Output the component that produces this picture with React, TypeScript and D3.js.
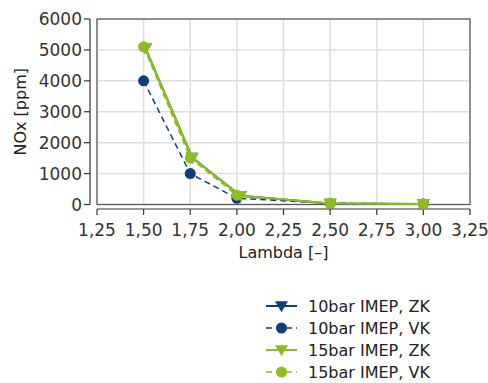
import React from "react";
import * as d3 from "d3";

const xTicks = [1.25, 1.5, 1.75, 2.0, 2.25, 2.5, 2.75, 3.0, 3.25];
const yTicks = [0, 1000, 2000, 3000, 4000, 5000, 6000];

const lambda10ZK = [1.51, 1.76, 2.02, 2.5, 3.0];
const nox10ZK = [5050, 1520, 280, 30, 20];
const lambda10VK = [1.5, 1.75, 2.0, 2.5, 3.0];
const nox10VK = [4000, 1000, 200, 40, 20];
const lambda15ZK = [1.51, 1.76, 2.02, 2.5, 3.0];
const nox15ZK = [5050, 1520, 280, 30, 20];
const lambda15VK = [1.5, 1.75, 2.0, 2.5, 3.0];
const nox15VK = [5100, 1500, 300, 40, 20];

const BLUE = "#0f3f7a";
const GREEN = "#8dbd1e";

const seriesList = [
  { name: "10bar IMEP, ZK", xs: lambda10ZK, ys: nox10ZK, color: BLUE, dashed: false, marker: "tri" },
  { name: "10bar IMEP, VK", xs: lambda10VK, ys: nox10VK, color: BLUE, dashed: true, marker: "circle" },
  { name: "15bar IMEP, ZK", xs: lambda15ZK, ys: nox15ZK, color: GREEN, dashed: false, marker: "tri" },
  { name: "15bar IMEP, VK", xs: lambda15VK, ys: nox15VK, color: GREEN, dashed: true, marker: "circle" },
];

const fmtX = (v: number) => v.toFixed(2).replace(".", ",");

function Marker({ type, x, y, color }: { type: string; x: number; y: number; color: string }) {
  if (type === "circle") return <circle cx={x} cy={y} r={5.5} fill={color} />;
  const s = 6.5;
  return (
    <path
      d={`M${x - s},${y - s * 0.75} L${x + s},${y - s * 0.75} L${x},${y + s * 0.95} Z`}
      fill={color}
    />
  );
}

export default function App() {
  const W = 488, H = 383;
  const left = 97, right = 470, top = 19, bottom = 204.5;
  const x = d3.scaleLinear().domain([1.25, 3.25]).range([left, right]);
  const y = d3.scaleLinear().domain([0, 6000]).range([bottom, top]);
  const font = "'DejaVu Sans', sans-serif";
  const textColor = "#333";
  const axisX = 90;
  const axisY = 209;

  return (
    <svg width={W} height={H} style={{ position: "absolute", left: 0, top: 0 }}>
      <rect width={W} height={H} fill="#fff" />
      {xTicks.map((t) => (
        <line key={"gx" + t} x1={x(t)} x2={x(t)} y1={top} y2={bottom} stroke="#dedede" strokeWidth={1.5} />
      ))}
      {yTicks.map((t) => (
        <line key={"gy" + t} x1={left} x2={right} y1={y(t)} y2={y(t)} stroke="#dedede" strokeWidth={1.5} />
      ))}
      <rect x={left} y={top} width={right - left} height={bottom - top} fill="none" stroke="#555" strokeWidth={1.2} />
      <line x1={axisX} x2={axisX} y1={y(6000)} y2={y(0)} stroke="#333" strokeWidth={1.2} />
      {yTicks.map((t) => (
        <g key={"yt" + t}>
          <line x1={axisX - 6} x2={axisX} y1={y(t)} y2={y(t)} stroke="#333" strokeWidth={1.2} />
          <text x={82} y={y(t)} dy="0.36em" textAnchor="end" fontFamily={font} fontSize={17} fill={textColor}>
            {t}
          </text>
        </g>
      ))}
      <line x1={x(1.25)} x2={x(3.25)} y1={axisY} y2={axisY} stroke="#333" strokeWidth={1.2} />
      {xTicks.map((t) => (
        <g key={"xt" + t}>
          <line x1={x(t)} x2={x(t)} y1={axisY} y2={axisY + 6} stroke="#333" strokeWidth={1.2} />
          <text x={x(t)} y={236} textAnchor="middle" fontFamily={font} fontSize={17} fill={textColor}>
            {fmtX(t)}
          </text>
        </g>
      ))}
      <text x={(left + right) / 2} y={258} textAnchor="middle" fontFamily={font} fontSize={16} fill="#222">
        Lambda [–]
      </text>
      <text
        transform={`translate(26,${(top + bottom) / 2}) rotate(-90)`}
        textAnchor="middle"
        fontFamily={font}
        fontSize={16}
        fill="#222"
      >
        NOx [ppm]
      </text>
      {seriesList.map((s) => {
        const pts: [number, number][] = s.xs.map((v, i) => [x(v), y(s.ys[i])]);
        const line = d3.line()(pts) || "";
        return (
          <g key={s.name}>
            <path d={line} fill="none" stroke={s.color} strokeWidth={s.dashed ? 1.5 : 2} strokeDasharray={s.dashed ? "6,4" : undefined} />
            {pts.map((p, i) => (
              <Marker key={i} type={s.marker} x={p[0]} y={p[1]} color={s.color} />
            ))}
          </g>
        );
      })}
      {seriesList.map((s, i) => {
        const cy = 306 + i * 22;
        return (
          <g key={"lg" + s.name}>
            <line x1={266} x2={297} y1={cy} y2={cy} stroke={s.color} strokeWidth={s.dashed ? 1.5 : 2} strokeDasharray={s.dashed ? "6,4" : undefined} />
            <Marker type={s.marker} x={281.5} y={cy} color={s.color} />
            <text x={308} y={cy} dy="0.36em" fontFamily={font} fontSize={16} fill="#222">
              {s.name}
            </text>
          </g>
        );
      })}
    </svg>
  );
}
